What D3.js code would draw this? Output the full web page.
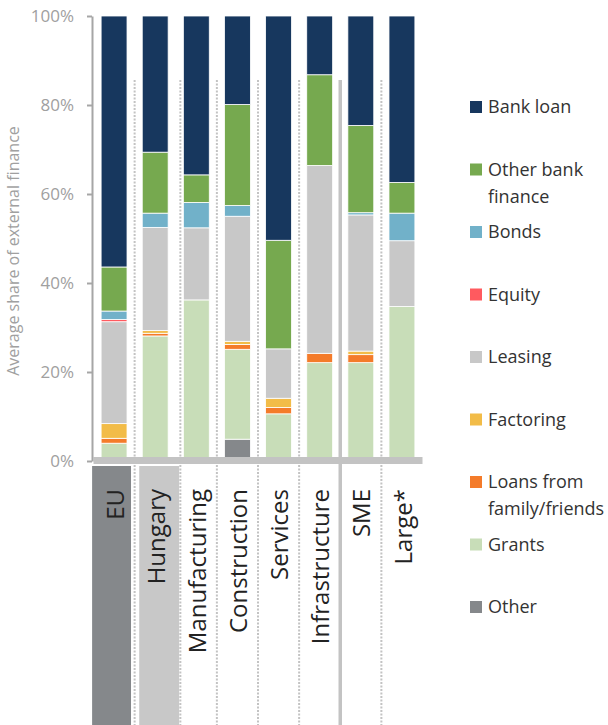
<!DOCTYPE html>
<html lang="en">
<head>
<meta charset="UTF-8">
<title>External finance</title>
<style>
  body { margin: 0; background: #fff; }
  svg text { font-family: "Open Sans", "Noto Sans", sans-serif; }
</style>
</head>
<body>
<script src="https://d3js.org/d3.v7.min.js"></script>
<div id="chart"></div>
<script>
    // data, bottom of the stack first
    const categories = ["EU", "Hungary", "Manufacturing", "Construction", "Services", "Infrastructure", "SME", "Large*"]
    const seriesNames = ["Other", "Grants", "Loans from family/friends", "Factoring", "Leasing", "Equity", "Bonds", "Other bank finance", "Bank loan"]
    const other       = [0,    0,    0,    4.9,  0,    0,    0,    0]
    const grants      = [4.0,  28.1, 36.2, 20.2, 10.6, 22.1, 22.1, 34.7]
    const loansFamily = [1.1,  0.6,  0,    1.1,  1.4,  2.1,  1.8,  0]
    const factoring   = [3.3,  0.6,  0,    0.7,  2.1,  0,    0.8,  0]
    const leasing     = [22.9, 23.2, 16.2, 28.1, 11.1, 42.2, 30.6, 14.8]
    const equity      = [0.5,  0,    0,    0,    0,    0,    0,    0]
    const bonds       = [1.9,  3.2,  5.7,  2.4,  0,    0,    0.5,  6.2]
    const otherBank   = [9.9,  13.7, 6.2,  22.7, 24.4, 20.4, 19.6, 6.9]
    const bankLoan    = [56.4, 30.6, 35.7, 19.9, 50.4, 13.2, 24.6, 37.4]
    const yTicks = [0, 20, 40, 60, 80, 100]

    const seriesValues = [other, grants, loansFamily, factoring, leasing, equity, bonds, otherBank, bankLoan]
    const colors = ["#85888b", "#c8ddb8", "#f47b2a", "#f2bc48", "#c8c8c8", "#ff5a5f", "#71b1c9", "#76a94f", "#17375e"]
    const legendLines = {
        "Other bank finance": ["Other bank", "finance"],
        "Loans from family/friends": ["Loans from", "family/friends"]
    }

    const W = 608, H = 725
    const svg = d3.select("#chart").append("svg")
        .attr("width", W)
        .attr("height", H)

    const x = d3.scaleBand()
        .domain(categories)
        .range([93.5, 422.5])
        .paddingInner(0.37)
        .paddingOuter(0.185)

    const y = d3.scaleLinear()
        .domain([0, 100])
        .range([461, 16])

    const table = categories.map((c, i) => {
        const row = { cat: c }
        seriesNames.forEach((s, j) => row[s] = seriesValues[j][i])
        return row
    })
    const stacked = d3.stack().keys(seriesNames)(table)

    const step = x.step()
    const bw = x.bandwidth()

    // label boxes under EU and Hungary
    svg.append("rect")
        .attr("x", x("EU") - 9).attr("y", 466)
        .attr("width", bw + 13).attr("height", H - 466)
        .attr("fill", "#85888b")
    svg.append("rect")
        .attr("x", x("Hungary") - 3).attr("y", 466)
        .attr("width", bw + 14).attr("height", H - 466)
        .attr("fill", "#c8c8c8")

    // separators between the bars
    for (let i = 1; i < categories.length; i++) {
        let sx = x(categories[i]) - (step - bw) / 2
        if (categories[i] === "Manufacturing") sx = x(categories[i]) - 3 // clear of the Hungary box
        const solid = categories[i] === "SME"
        svg.append("line")
            .attr("x1", sx).attr("x2", sx)
            .attr("y1", 80).attr("y2", H)
            .attr("stroke", "#c3c3c3")
            .attr("stroke-width", solid ? 3.5 : 2)
            .attr("stroke-dasharray", solid ? null : "2,1.5")
    }

    // bars
    svg.append("g")
        .selectAll("g")
        .data(stacked)
        .join("g")
        .attr("fill", (d, i) => colors[i])
        .selectAll("rect")
        .data(d => d.filter(p => p[1] - p[0] > 0))
        .join("rect")
        .attr("x", d => x(d.data.cat))
        .attr("y", d => y(d[1]))
        .attr("width", bw)
        .attr("height", d => y(d[0]) - y(d[1]))
        .attr("stroke", "#fff")
        .attr("stroke-width", 0.8)

    // base bar along 0%
    svg.append("rect")
        .attr("x", x.range()[0]).attr("y", y(0) - 4)
        .attr("width", x.range()[1] - x.range()[0]).attr("height", 7)
        .attr("fill", "#c3c3c3")

    // y axis
    const yAxis = svg.append("g")
        .attr("transform", "translate(92,0)")
        .call(d3.axisLeft(y).tickValues(yTicks).tickFormat(d => d + "%").tickSizeInner(5).tickSizeOuter(0).tickPadding(13))
    yAxis.select(".domain").attr("stroke", "#a6a6a6").attr("stroke-width", 2)
    yAxis.selectAll(".tick line").attr("stroke", "#a6a6a6").attr("stroke-width", 2)
    yAxis.selectAll(".tick text")
        .attr("fill", "#a0a0a0")
        .style("font-size", "17px")
        .style("font-family", "'Open Sans', sans-serif")

    svg.append("text")
        .attr("transform", "translate(19,251) rotate(-90)")
        .attr("text-anchor", "middle")
        .attr("fill", "#a0a0a0")
        .style("font-size", "16px")
        .text("Average share of external finance")

    // category labels
    svg.append("g")
        .selectAll("text")
        .data(categories)
        .join("text")
        .attr("transform", d => `translate(${x(d) + bw / 2},489) rotate(-90)`)
        .attr("text-anchor", "end")
        .attr("dy", "0.4em")
        .attr("fill", "#222")
        .style("font-size", "24px")
        .text(d => d)

    // legend, top entry is last series
    const legendOrder = seriesNames.slice().reverse()
    const legend = svg.append("g")
    legendOrder.forEach((s, i) => {
        const ly = 107 + i * 62.5
        const c = colors[seriesNames.indexOf(s)]
        legend.append("rect")
            .attr("x", 470).attr("y", ly - 6)
            .attr("width", 12).attr("height", 12)
            .attr("fill", c)
        const lines = legendLines[s] || [s]
        lines.forEach((t, k) => {
            legend.append("text")
                .attr("x", 488).attr("y", ly + k * 27)
                .attr("dy", "0.35em")
                .attr("fill", "#333")
                .style("font-size", "18px")
                .text(t)
        })
    })
</script>
</body>
</html>
